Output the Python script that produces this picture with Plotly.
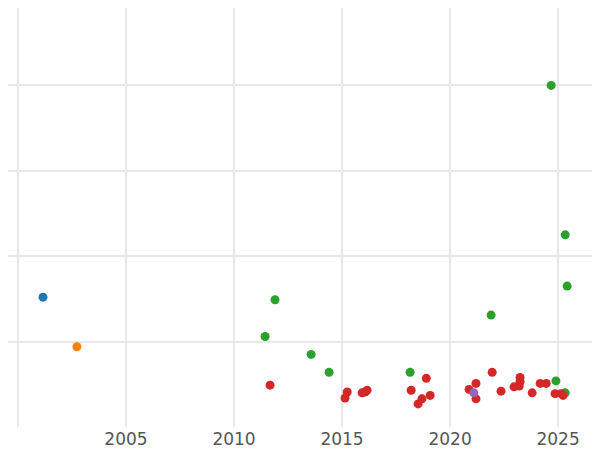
import plotly.graph_objects as go

blue_x=[2001.16]; blue_y=[1.52]
orange_x=[2002.73]; orange_y=[0.94]
green_x=[2024.68,2025.33,2025.42,2011.9,2021.9,2011.44,2013.57,2014.4,2018.15,2024.9,2025.33]
green_y=[4.0,2.25,1.65,1.49,1.31,1.06,0.85,0.64,0.64,0.54,0.40]
red_x=[2011.67,2015.24,2015.14,2015.93,2016.07,2016.16,2018.2,2018.9,2018.52,2018.7,2019.08,2020.88,2021.2,2021.2,2021.95,2022.36,2022.96,2023.2,2023.24,2023.24,2023.8,2024.17,2024.45,2024.86,2025.14,2025.23]
red_y=[0.49,0.41,0.34,0.40,0.41,0.43,0.43,0.57,0.27,0.33,0.37,0.44,0.51,0.33,0.64,0.42,0.47,0.48,0.58,0.53,0.40,0.51,0.51,0.39,0.39,0.37]
purple_x=[2021.1]; purple_y=[0.40]

fig=go.Figure()
for x,y,c in [(blue_x,blue_y,'#1f77b4'),(orange_x,orange_y,'#ff7f0e'),(green_x,green_y,'#2ca02c'),(red_x,red_y,'#d62728'),(purple_x,purple_y,'#9467bd')]:
    fig.add_trace(go.Scatter(x=x,y=y,mode='markers',marker=dict(color=c,size=9),showlegend=False))
fig.update_layout(width=600,height=450,margin=dict(l=0,r=0,t=0,b=31),plot_bgcolor='white',paper_bgcolor='white',
    font=dict(family='DejaVu Sans',size=17,color='#555'))
fig.update_xaxes(range=[1999.54,2027.31],tickvals=[2000,2005,2010,2015,2020,2025],ticktext=['','2005','2010','2015','2020','2025'],
    showgrid=True,gridcolor='#e8e8e8',gridwidth=2,zeroline=False,showline=False)
fig.update_yaxes(range=[0,4.906],tickvals=[1,2,3,4],showticklabels=False,showgrid=True,gridcolor='#e8e8e8',gridwidth=2,zeroline=False)
fig.write_html("out.html")
